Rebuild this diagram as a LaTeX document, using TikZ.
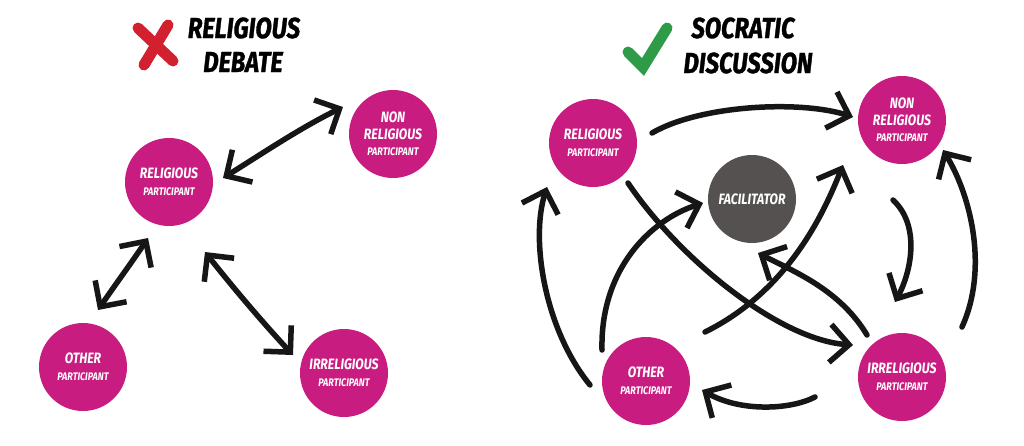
\documentclass[tikz,border=0pt]{standalone}
\usepackage{fontspec}
\newfontfamily\cf[FakeStretch=0.82]{Fira Sans}
\newfontfamily\tf[FakeStretch=0.82,FakeBold=1.2]{Fira Sans}
\usetikzlibrary{arrows.meta}
\definecolor{mag}{RGB}{200,28,128}
\definecolor{fac}{RGB}{85,81,81}
\definecolor{ink}{RGB}{22,22,22}
\definecolor{xred}{RGB}{210,32,47}
\definecolor{okgreen}{RGB}{45,155,72}
\tikzset{
  person/.style={circle, fill=mag, minimum size=88pt, inner sep=0pt, text=white, align=center, font=\cf\bfseries\itshape\fontsize{15}{16.5}\selectfont},
  facil/.style={circle, fill=fac, minimum size=88pt, inner sep=0pt, text=white, align=center, font=\cf\bfseries\itshape\fontsize{15}{16.5}\selectfont},
  title/.style={inner sep=0pt, font=\tf\bfseries\itshape\fontsize{29}{30}\selectfont},
  arr/.style={draw=ink, line width=5.5pt, line cap=round, line join=round, -{Straight Barb[length=19pt,width=38pt]}},
  dbl/.style={draw=ink, line width=5.5pt, line cap=round, line join=round, {Straight Barb[length=19pt,width=38pt]}-{Straight Barb[length=19pt,width=38pt]}},
  brush/.style={line width=11pt, line cap=round}
}
\newcommand{\bigtxt}[1]{\fontsize{15}{16.5}\selectfont #1}
\newcommand{\smltxt}[1]{\fontsize{11}{16.5}\selectfont #1}
\begin{document}
\begin{tikzpicture}[x=1pt,y=-1pt]
\useasboundingbox (0,0) rectangle (1024,445);
\fill[white] (0,0) rectangle (1024,445);

% titles
\draw[brush, xred] (138,28) -- (173,61);
\draw[brush, xred] (168,25) -- (144,65);
\node[title] (t1) at (244,28) {RELIGIOUS};
\node[title] (t2) at (243,62) {DEBATE};
\draw[brush, okgreen] (628,52) -- (643,67) -- (667,28);
\node[title] (t3) at (743,28) {SOCRATIC};
\node[title] (t4) at (748,63) {DISCUSSION};

% left diagram
\node[person] (lrel) at (169,182) {\bigtxt{RELIGIOUS}\\\smltxt{PARTICIPANT}};
\node[person] (lnon) at (393,134) {\bigtxt{NON}\\\bigtxt{RELIGIOUS}\\\smltxt{PARTICIPANT}};
\node[person] (loth) at (83,367) {\bigtxt{OTHER}\\\smltxt{PARTICIPANT}};
\node[person] (lirr) at (344,373) {\bigtxt{IRRELIGIOUS}\\\smltxt{PARTICIPANT}};

\coordinate (l1a) at (223,178);
\coordinate (l1b) at (343,107);
\coordinate (l2a) at (148,238);
\coordinate (l2b) at (98,310);
\coordinate (l3a) at (205,252);
\coordinate (l3b) at (293,355);
\draw[dbl] (l1a) .. controls (260,155) and (300,128) .. (l1b);
\draw[dbl] (l2a) .. controls (132,262) and (115,285) .. (l2b);
\draw[dbl] (l3a) .. controls (235,290) and (265,325) .. (l3b);

% right diagram
\node[person] (rrel) at (593,143) {\bigtxt{RELIGIOUS}\\\smltxt{PARTICIPANT}};
\node[person] (rnon) at (902,120) {\bigtxt{NON}\\\bigtxt{RELIGIOUS}\\\smltxt{PARTICIPANT}};
\node[facil] (rfac) at (752,199) {FACILITATOR};
\node[person] (roth) at (646,381) {\bigtxt{OTHER}\\\smltxt{PARTICIPANT}};
\node[person] (rirr) at (902,377) {\bigtxt{IRRELIGIOUS}\\\smltxt{PARTICIPANT}};

\coordinate (a1) at (652,133);  \coordinate (a2) at (853,117);
\coordinate (b1) at (893,200);  \coordinate (b2) at (895,302);
\coordinate (c1) at (962,327);  \coordinate (c2) at (943,150);
\coordinate (d1) at (815,397);  \coordinate (d2) at (702,390);
\coordinate (e1) at (590,385);  \coordinate (e2) at (547,187);
\coordinate (f1) at (602,350);  \coordinate (f2) at (703,203);
\coordinate (g1) at (628,183);  \coordinate (g2) at (853,345);
\coordinate (h1) at (867,335);  \coordinate (h2) at (758,253);
\coordinate (i1) at (705,332);  \coordinate (i2) at (843,165);

\draw[arr] (a1) .. controls (700,105) and (800,100) .. (a2);
\draw[arr] (b1) .. controls (920,225) and (912,270) .. (b2);
\draw[arr] (c1) .. controls (988,270) and (972,198) .. (c2);
\draw[arr] (d1) .. controls (790,410) and (740,412) .. (d2);
\draw[arr] (e1) .. controls (545,330) and (530,240) .. (e2);
\draw[arr] (f1) .. controls (600,270) and (650,220) .. (f2);
\draw[arr] (g1) .. controls (680,260) and (780,340) .. (g2);
\draw[arr] (h1) .. controls (840,290) and (795,272) .. (h2);
\draw[arr] (i1) .. controls (790,290) and (825,210) .. (i2);
\end{tikzpicture}
\end{document}
